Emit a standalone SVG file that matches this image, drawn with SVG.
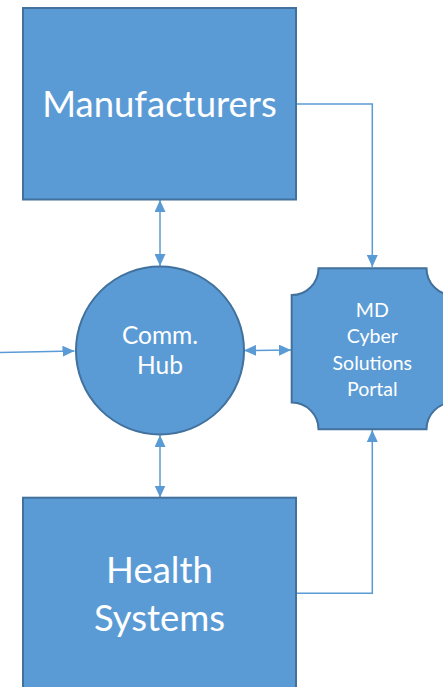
<svg xmlns="http://www.w3.org/2000/svg" width="443" height="687" viewBox="0 0 443 687">
  <style>
    .shape { fill: #5B9BD5; stroke: #41719C; stroke-width: 2; }
    .label { fill: #FFFFFF; font-family: Lato, "Open Sans", "Liberation Sans", sans-serif; text-anchor: middle; }
    .big { font-size: 36.5px; }
    .hub { font-size: 24.5px; }
    .portal { font-size: 19.5px; }
    .link { fill: none; stroke: #5B9BD5; stroke-width: 1.5; }
  </style>
  <defs>
    <marker id="head" markerUnits="userSpaceOnUse" markerWidth="12" markerHeight="11" refX="12" refY="5.5" orient="auto-start-reverse">
      <path d="M0,0 L12,5.5 L0,11 Z" fill="#5B9BD5"/>
    </marker>
  </defs>
  <rect width="443" height="687" fill="#FFFFFF"/>

  <g id="connectors">
    <!-- Manufacturers to portal -->
    <polyline class="link" points="296,104 372.3,104 372.3,267" marker-end="url(#head)"/>
    <!-- Health Systems to portal -->
    <polyline class="link" points="296,593.3 372.3,593.3 372.3,430" marker-end="url(#head)"/>
    <!-- Manufacturers <-> hub -->
    <line class="link" x1="160" y1="200" x2="160" y2="266" marker-start="url(#head)" marker-end="url(#head)"/>
    <!-- hub <-> Health Systems -->
    <line class="link" x1="160" y1="435" x2="160" y2="497.5" marker-start="url(#head)" marker-end="url(#head)"/>
    <!-- hub <-> portal -->
    <line class="link" x1="244" y1="350.5" x2="291" y2="350" marker-start="url(#head)" marker-end="url(#head)"/>
    <!-- incoming link at left -->
    <line class="link" x1="0" y1="352.5" x2="74.5" y2="351" marker-end="url(#head)"/>
  </g>

  <g id="manufacturers">
    <rect class="shape" x="23" y="8" width="273" height="191.5"/>
    <text class="label big" x="159.5" y="116.7">Manufacturers</text>
  </g>

  <g id="health-systems">
    <rect class="shape" x="23" y="497.7" width="273" height="200"/>
    <text class="label big" x="159.5" y="583.3">Health</text>
    <text class="label big" x="159.5" y="631">Systems</text>
  </g>

  <g id="comm-hub">
    <circle class="shape" cx="160" cy="350.5" r="84"/>
    <text class="label hub" x="160" y="344">Comm.</text>
    <text class="label hub" x="160" y="374.3">Hub</text>
  </g>

  <g id="portal">
    <path class="shape" d="M318.5,268.3 L426.5,268.3 A26.8,26.8 0 0 0 453.3,295.1 L453.3,402.5 A26.8,26.8 0 0 0 426.5,429.3 L318.5,429.3 A26.8,26.8 0 0 0 291.7,402.5 L291.7,295.1 A26.8,26.8 0 0 0 318.5,268.3 Z"/>
    <text class="label portal" x="372.3" y="316.7">MD</text>
    <text class="label portal" x="372.3" y="343.3">Cyber</text>
    <text class="label portal" x="372.3" y="369.5">Solutions</text>
    <text class="label portal" x="372.3" y="395.5">Portal</text>
  </g>
</svg>
